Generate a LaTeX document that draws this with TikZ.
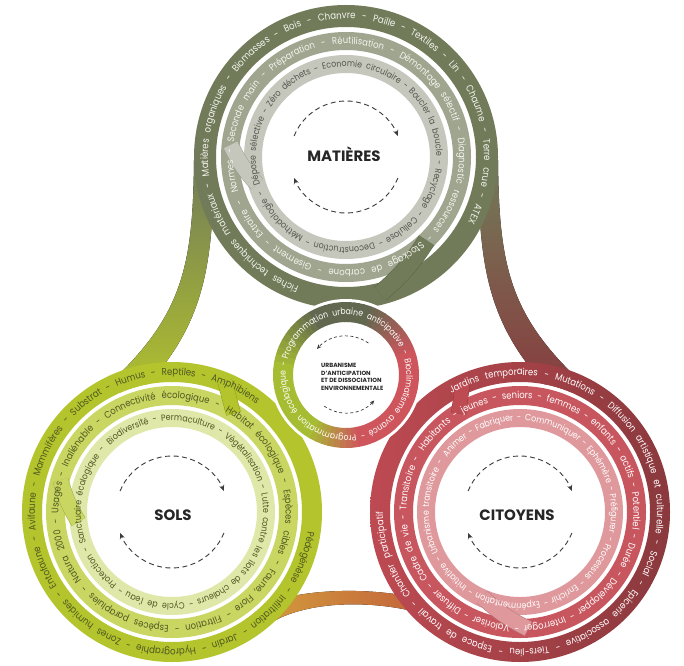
\documentclass[tikz,border=0pt]{standalone}
\usepackage{fontspec}
\setmainfont{Poppins}
\newfontfamily\ringfnt[FakeStretch=0.88]{Poppins}
\usetikzlibrary{decorations.text,arrows.meta}

\definecolor{mOut}{HTML}{717B59}
\definecolor{mMid}{HTML}{9FA58E}
\definecolor{mIn}{HTML}{C5C7BC}
\definecolor{sOut}{HTML}{B4C42C}
\definecolor{sMid}{HTML}{C9D661}
\definecolor{sIn}{HTML}{DFE8A8}
\definecolor{cOutL}{HTML}{BE4A52}
\definecolor{cOutR}{HTML}{8A393D}
\definecolor{cMid}{HTML}{C8565E}
\definecolor{cIn}{HTML}{DF999C}
\definecolor{txtLight}{HTML}{F4F4EE}
\definecolor{txtGrey}{HTML}{55564F}
\definecolor{txtOlive}{HTML}{4E5822}
\definecolor{arrowGrey}{HTML}{3A3A3A}
\definecolor{goldL}{HTML}{D4A23C}
\definecolor{goldR}{HTML}{C4643C}
\definecolor{zOlive}{HTML}{62684F}
\definecolor{zRed}{HTML}{CF555D}
\definecolor{zYellow}{HTML}{A6BD33}

% text along a clockwise arc: center, radius, start, end, colour, size, text
\newcommand\ringtxt[7]{%
  \path[decorate,decoration={text along path,
      text align={fit to path stretching spaces},
      text color=#5,
      text={|\ringfnt\fontsize{#6}{10}\selectfont|#7}}]
    ([shift={(#3:#2)}]#1) arc[start angle=#3, end angle=#4, radius=#2];}

% gradient piece of the central ring
\newcommand\zgrad[4]{%
  \foreach \i in {0,...,9}{%
    \pgfmathsetmacro\za{#1+((#2)-(#1))*\i/10}%
    \pgfmathsetmacro\zb{#1+((#2)-(#1))*(\i+1)/10+0.6}%
    \pgfmathtruncatemacro\zp{100-\i*100/9}%
    \fill[#3!\zp!#4] ([shift={(\za:73)}]O) arc[start angle=\za, end angle=\zb, radius=73]
      -- ([shift={(\zb:53)}]O) arc[start angle=\zb, end angle=\za, radius=53] -- cycle;
  }}

\begin{document}
\begin{tikzpicture}[x=1pt,y=1pt,
  dasharrow/.style={arrowGrey, line width=0.9pt, dash pattern=on 5pt off 3.5pt,
     -{Stealth[length=6pt,width=5pt]}},
  smallarrow/.style={arrowGrey, line width=0.7pt, dash pattern=on 3pt off 2.5pt,
     -{Stealth[length=4.5pt,width=4pt]}},
  xover/.style 2 args={draw=#1!80!black, line width=0.5pt, double=#1, double distance=#2},
  title/.style={font=\bfseries\fontsize{15}{17}\selectfont, text=black!85, inner sep=0pt}]

\useasboundingbox (0,0) rectangle (684,665);
\fill[white] (0,0) rectangle (684,665);

\coordinate (M) at (346,508);
\coordinate (S) at (172,153);
\coordinate (C) at (520,153);
\coordinate (O) at (346,290);

% ---------- connecting bands ----------
\fill[top color=mOut, bottom color=sOut]
  (194,505) .. controls (193,400) and (183,350) .. (110,282) -- (130,262)
  .. controls (205,335) and (213,395) .. (214,505) -- cycle;
\fill[top color=mOut, bottom color=cOutR]
  (498,505) .. controls (499,400) and (509,350) .. (582,282) -- (562,262)
  .. controls (487,335) and (479,395) .. (478,505) -- cycle;
\fill[left color=goldL, right color=goldR]
  (240,50) .. controls (285,78) and (365,78) .. (412,68) -- (420,52)
  .. controls (370,66) and (290,66) .. (255,30) -- cycle;

\fill[white] (M) circle[radius=130];
\fill[white] (S) circle[radius=130];
\fill[white] (C) circle[radius=130];

% ---------- rings ----------
\fill[mOut, even odd rule] (M) circle[radius=152] (M) circle[radius=130];
\fill[mMid, even odd rule] (M) circle[radius=125] (M) circle[radius=107];
\fill[mIn,  even odd rule] (M) circle[radius=102] (M) circle[radius=84];

\fill[sOut, even odd rule] (S) circle[radius=150] (S) circle[radius=130];
\fill[sMid, even odd rule] (S) circle[radius=126] (S) circle[radius=107];
\fill[sIn,  even odd rule] (S) circle[radius=103] (S) circle[radius=85];

\shade[even odd rule, left color=cOutL, right color=cOutR] (C) circle[radius=150] (C) circle[radius=130];
\fill[cMid, even odd rule] (C) circle[radius=126] (C) circle[radius=107];
\fill[cIn,  even odd rule] (C) circle[radius=103] (C) circle[radius=85];

% ---------- spiral cross-overs ----------
\draw[xover={mIn}{15pt}]  ([shift={(174:116)}]M) to[bend right=8] ([shift={(197:93)}]M);
\draw[xover={mOut}{17pt}] ([shift={(-46:116)}]M) to[bend left=8] ([shift={(-76:141)}]M);
\draw[xover={sOut}{14pt}] ([shift={(68:141)}]S) -- ([shift={(58:116)}]S);
\draw[xover={sMid}{15pt}] ([shift={(164:116)}]S) to[bend right=8] ([shift={(186:94)}]S);
\draw[xover={cOutL}{14pt}] ([shift={(114:141)}]C) -- ([shift={(122:116)}]C);
\draw[xover={cIn}{15pt}]  ([shift={(-86:117)}]C) to[bend left=8] ([shift={(-114:93)}]C);

% ---------- central ring ----------
\fill[white] (O) circle[radius=76];
\zgrad{-125}{-75}{zYellow}{zRed}
\zgrad{-75}{15}{zRed}{zRed}
\zgrad{15}{75}{zRed}{zOlive}
\zgrad{75}{115}{zOlive}{zOlive}
\zgrad{115}{175}{zOlive}{zYellow}
\zgrad{175}{235}{zYellow}{zYellow}

% ---------- ring texts ----------
\ringtxt{M}{138}{250}{-28}{txtLight}{9.8}{Fiches techniques matériaux - Matières organiques - Biomasses - Bois - Chanvre - Paille - Textiles - Lin - Chaume - Terre crue - ATEX}
\ringtxt{M}{113}{198}{-158}{txtLight}{9.6}{Normes - Seconde main - Préparation - Réutilisation - Démontage sélectif - Diagnostic ressources - Stockage de carbone - Gisement - Extraire -}
\ringtxt{M}{90.2}{198}{-158}{txtGrey}{9}{Dépose sélective - Zéro déchets - Economie circulaire - Boucler la boucle - Recyclage - Cellulose - Deconstruction - Méthodologie -}

\ringtxt{S}{137}{-8}{-308}{txtOlive}{9.8}{Pédogénèse - Infiltration - Jardin - Hydrographie - Zones humides - Entofaune - Avifaune - Mammifères - Substrat - Humus - Reptiles - Amphibiens}
\ringtxt{S}{113.5}{62}{-294}{txtOlive}{9.6}{Habitat écologique - Espèces cibles - Faune, Flore - Filtration - Espèces parapluies - Natura 2000 - Usages - Inaliénable - Connectivité écologique -}
\ringtxt{S}{91.2}{133}{-223}{txtOlive}{9}{Biodiversité - Permaculture - Végétalisation - Lutte contre les îlots de chaleurs - Cycle de l'eau - Protection - Sanctuaire écologique -}

\ringtxt{C}{137}{120}{-180}{white}{9.6}{Jardins temporaires - Mutations - Diffusion artistique et culturelle - Social - Epicerie associative - Tiers-lieu - Espace de travail - Chantier participatif}
\ringtxt{C}{113.5}{148}{-208}{white}{9.6}{Habitants - jeunes - seniors - femmes - enfants - actifs - Potentiel - Durée - Développer - Interroger - Valoriser - Diffuser - Cadre de vie - Transitoire -}
\ringtxt{C}{91.2}{143}{-213}{white}{9}{Animer - Fabriquer - Communiquer - Ephémère - Préfigurer - Processus - Enrichir - Expérimentation - Initiative - Urbanisme transitoire -}

\ringtxt{O}{60.3}{165}{-192}{white}{8.8}{Programmation urbaine anticipative - Bioclimatisme avancé - Programmation écologique -}

% ---------- cycle arrows ----------
\foreach \c in {M,S,C}{
  \draw[dasharrow] ([shift={(158:56)}]\c) arc[start angle=158, end angle=22, radius=56];
  \draw[dasharrow] ([shift={(-22:56)}]\c) arc[start angle=-22, end angle=-158, radius=56];
}
\draw[smallarrow] ([shift={(55:39)}]O) arc[start angle=55, end angle=138, radius=39];
\draw[smallarrow] ([shift={(235:38)}]O) arc[start angle=235, end angle=318, radius=38];

% ---------- titles ----------
\node[title] (mt) at (344,511) {MATIÈRES};
\node[title] (st) at (173,150) {SOLS};
\node[title] (ct) at (517,150) {CITOYENS};
\node[anchor=west, align=left, inner sep=0pt, text=black!85,
      font=\bfseries\fontsize{6}{7.5}\selectfont] (ctr) at (321,288)
  {URBANISME\\D'ANTICIPATION\\ET DE DISSOCIATION\\ENVIRONNEMENTALE};
\end{tikzpicture}
\end{document}
